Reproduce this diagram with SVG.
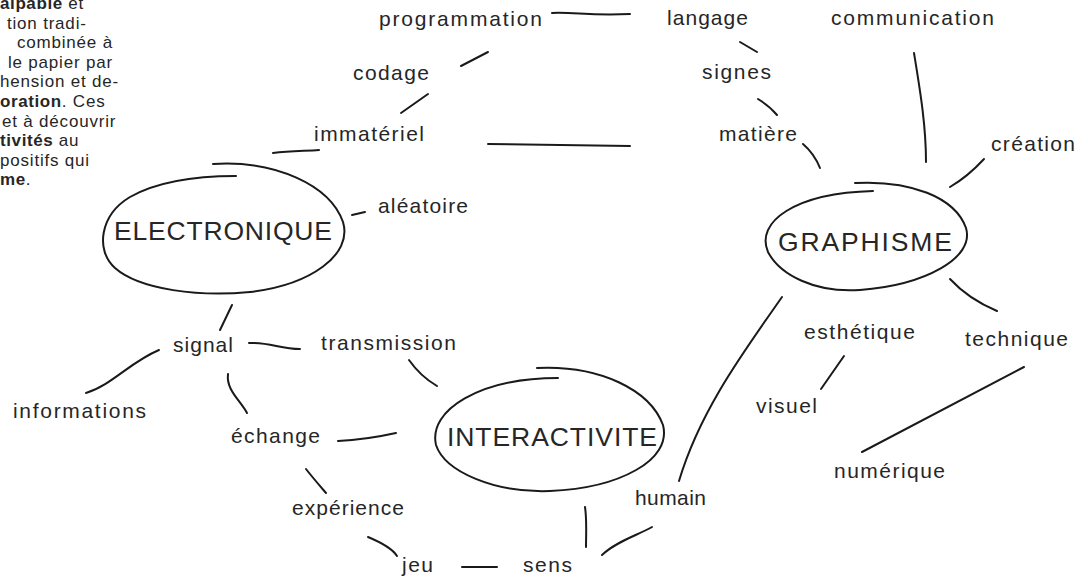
<svg xmlns="http://www.w3.org/2000/svg" width="1088" height="578" viewBox="0 0 1088 578">
<style>
.bg{fill:#ffffff}
.lbl{font-family:"Liberation Sans",Arial,sans-serif;font-size:21px;fill:#262626}
.big{font-family:"Liberation Sans",Arial,sans-serif;font-size:26.5px;fill:#262626}
.par{font-family:"Liberation Sans",Arial,sans-serif;font-size:17px;fill:#262626;letter-spacing:0.8px}
.b{font-weight:bold;letter-spacing:0.6px}
.ln{fill:none;stroke:#1a1a1a;stroke-width:2;stroke-linecap:round;stroke-linejoin:round}
</style>
<rect class="bg" x="0" y="0" width="1088" height="578"/>

<g id="paragraph">
<text class="par" x="0" y="9"><tspan class="b">alpable</tspan> et</text>
<text class="par" x="7" y="28.6">tion tradi-</text>
<text class="par" x="17" y="48.2">combinée à</text>
<text class="par" x="8" y="67.8">le papier par</text>
<text class="par" x="0" y="87.4">hension et de-</text>
<text class="par" x="0" y="107"><tspan class="b">oration</tspan>. Ces</text>
<text class="par" x="2" y="126.6">et à découvrir</text>
<text class="par" x="0" y="146.2"><tspan class="b">tivités</tspan> au</text>
<text class="par" x="0" y="165.8">positifs qui</text>
<text class="par" x="0" y="185.4"><tspan class="b">me</tspan>.</text>
</g>

<g id="connectors">
<path class="ln" d="M552,13 C575,12 590,16 630,14"/>
<path class="ln" d="M461,66 L488,52"/>
<path class="ln" d="M401,113 L428,94"/>
<path class="ln" d="M273,153 C290,151 305,151 319,150"/>
<path class="ln" d="M488,144 C540,145 590,145 630,146"/>
<path class="ln" d="M740,42 L757,52"/>
<path class="ln" d="M758,99 C766,104 772,109 777,115"/>
<path class="ln" d="M803,144 C810,150 816,158 820,168"/>
<path class="ln" d="M914,53 C920,90 926,125 926,162"/>
<path class="ln" d="M984,159 C972,172 962,180 950,187"/>
<path class="ln" d="M352,215 L365,212"/>
<path class="ln" d="M232,305 L220,330"/>
<path class="ln" d="M249,343 C270,342 280,349 300,349"/>
<path class="ln" d="M159,350 C130,362 112,385 86,393"/>
<path class="ln" d="M228,374 C226,390 240,400 247,413"/>
<path class="ln" d="M338,441 C360,440 378,437 396,433"/>
<path class="ln" d="M409,360 C416,370 425,379 437,386"/>
<path class="ln" d="M306,469 C313,478 320,486 326,493"/>
<path class="ln" d="M368,537 C380,542 392,548 397,556"/>
<path class="ln" d="M462,567 L497,567"/>
<path class="ln" d="M585,507 C587,520 586,535 586,547"/>
<path class="ln" d="M602,555 C615,542 638,535 652,527"/>
<path class="ln" d="M782,297 C745,350 700,410 679,481"/>
<path class="ln" d="M950,279 C962,292 978,303 997,311"/>
<path class="ln" d="M844,356 L821,389"/>
<path class="ln" d="M1024,367 L862,452"/>
</g>

<g id="node-electronique">
<path class="ln" d="M213,164 C275,160 330,185 343,222 C353,255 310,285 250,292 C200,297 140,290 115,268 C95,250 100,215 130,197 C160,180 200,176 236,176"/>
<text class="big" x="114" y="240" textLength="218" lengthAdjust="spacing">ELECTRONIQUE</text>
</g>
<g id="node-graphisme">
<path class="ln" d="M855,183 C910,180 955,197 966,228 C975,258 925,285 860,290 C815,293 780,275 768,252 C755,222 795,193 873,191"/>
<text class="big" x="778" y="251" textLength="174" lengthAdjust="spacing">GRAPHISME</text>
</g>
<g id="node-interactivite">
<path class="ln" d="M537,368 C600,365 650,390 663,425 C672,460 620,488 550,491 C495,493 445,472 436,445 C428,410 480,378 558,378"/>
<text class="big" x="447" y="446" textLength="210" lengthAdjust="spacing">INTERACTIVITE</text>
</g>

<g id="node-programmation"><text class="lbl" x="379" y="26" textLength="163" lengthAdjust="spacing">programmation</text></g>
<g id="node-langage"><text class="lbl" x="667" y="25" textLength="81" lengthAdjust="spacing">langage</text></g>
<g id="node-communication"><text class="lbl" x="831" y="25" textLength="163" lengthAdjust="spacing">communication</text></g>
<g id="node-codage"><text class="lbl" x="353" y="80" textLength="76" lengthAdjust="spacing">codage</text></g>
<g id="node-signes"><text class="lbl" x="702" y="79" textLength="69" lengthAdjust="spacing">signes</text></g>
<g id="node-immateriel"><text class="lbl" x="314" y="141" textLength="110" lengthAdjust="spacing">immatériel</text></g>
<g id="node-matiere"><text class="lbl" x="719" y="141" textLength="78" lengthAdjust="spacing">matière</text></g>
<g id="node-creation"><text class="lbl" x="991" y="151" textLength="84" lengthAdjust="spacing">création</text></g>
<g id="node-aleatoire"><text class="lbl" x="378" y="213" textLength="90" lengthAdjust="spacing">aléatoire</text></g>
<g id="node-signal"><text class="lbl" x="173" y="352" textLength="60" lengthAdjust="spacing">signal</text></g>
<g id="node-transmission"><text class="lbl" x="321" y="350" textLength="135" lengthAdjust="spacing">transmission</text></g>
<g id="node-informations"><text class="lbl" x="13" y="418" textLength="133" lengthAdjust="spacing">informations</text></g>
<g id="node-echange"><text class="lbl" x="231" y="443" textLength="89" lengthAdjust="spacing">échange</text></g>
<g id="node-experience"><text class="lbl" x="292" y="515" textLength="112" lengthAdjust="spacing">expérience</text></g>
<g id="node-jeu"><text class="lbl" x="402" y="572" textLength="31" lengthAdjust="spacing">jeu</text></g>
<g id="node-sens"><text class="lbl" x="523" y="572" textLength="49" lengthAdjust="spacing">sens</text></g>
<g id="node-humain"><text class="lbl" x="635" y="505" textLength="71" lengthAdjust="spacing">humain</text></g>
<g id="node-esthetique"><text class="lbl" x="804" y="339" textLength="111" lengthAdjust="spacing">esthétique</text></g>
<g id="node-technique"><text class="lbl" x="965" y="346" textLength="103" lengthAdjust="spacing">technique</text></g>
<g id="node-visuel"><text class="lbl" x="756" y="413" textLength="61" lengthAdjust="spacing">visuel</text></g>
<g id="node-numerique"><text class="lbl" x="834" y="478" textLength="111" lengthAdjust="spacing">numérique</text></g>
</svg>
